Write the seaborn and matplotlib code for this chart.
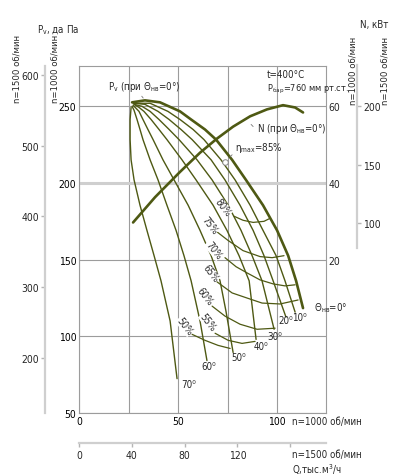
import matplotlib
matplotlib.use("Agg")
import pandas as pd
import matplotlib.pyplot as plt
import seaborn as sns

# ---- data, n=1000 об/мин: Q in тыс. м3/ч, Pv in да Па, N in кВт
angles = [0, 10, 20, 30, 40, 50, 60, 70]

q_0 = [26.8, 33.3, 40.9, 51.0, 56.6, 63.6, 69.2, 77.3, 84.3, 92.9, 100.0, 105.6, 109.6, 113.1]
p_0 = [252.6, 253.9, 252.6, 246.7, 241.4, 234.9, 228.3, 215.1, 202.0, 185.5, 169.1, 152.6, 136.2, 118.4]
q_10 = [27.3, 35.9, 44.9, 51.0, 57.6, 63.1, 71.7, 78.8, 86.4, 92.9, 99.5, 104.0, 109.1]
p_10 = [252.0, 252.0, 246.7, 241.4, 234.9, 228.3, 215.1, 202.0, 185.5, 169.1, 152.6, 136.2, 115.8]
q_20 = [27.8, 33.3, 39.9, 45.5, 51.5, 57.1, 66.7, 73.7, 81.3, 87.9, 93.4, 98.0, 104.5]
p_20 = [252.0, 251.3, 246.7, 241.4, 234.9, 228.3, 215.1, 202.0, 185.5, 169.1, 152.6, 136.2, 112.5]
q_30 = [27.8, 31.8, 35.9, 40.4, 45.5, 50.5, 59.6, 67.2, 75.3, 81.8, 87.4, 92.4, 98.5]
p_30 = [251.3, 250.0, 246.7, 241.4, 234.9, 228.3, 215.1, 202.0, 185.5, 169.1, 152.6, 136.2, 104.6]
q_40 = [27.8, 30.3, 32.8, 36.4, 40.4, 44.4, 52.0, 59.1, 67.7, 74.7, 80.8, 85.9, 89.4]
p_40 = [251.3, 249.3, 246.7, 241.4, 234.9, 228.3, 215.1, 202.0, 185.5, 169.1, 152.6, 136.2, 98.0]
q_50 = [27.3, 28.8, 30.3, 32.3, 34.8, 37.4, 42.4, 48.0, 55.1, 61.1, 66.7, 71.2, 74.2, 77.8]
p_50 = [250.7, 248.7, 246.7, 241.4, 234.9, 228.3, 215.1, 202.0, 185.5, 169.1, 152.6, 136.2, 116.4, 89.5]
q_60 = [26.8, 27.8, 29.3, 30.8, 32.3, 35.9, 39.9, 44.4, 49.0, 53.0, 56.6, 61.1, 64.6]
p_60 = [250.0, 247.4, 241.4, 234.9, 228.3, 215.1, 202.0, 185.5, 169.1, 152.6, 136.2, 110.0, 84.2]
q_70 = [26.3, 25.8, 25.8, 26.3, 27.8, 30.8, 34.3, 37.9, 41.4, 46.0, 49.5]
p_70 = [249.3, 241.4, 228.3, 215.1, 202.0, 185.5, 169.1, 152.6, 136.2, 110.0, 72.4]

# efficiency lines (%)
eff_levels = [80, 75, 70, 65, 60, 55, 50]
q_e80 = [78.3, 82.8, 87.9, 93.4, 96.5]
p_e80 = [178.3, 175.7, 174.3, 175.0, 177.0]
q_e75 = [68.7, 75.3, 82.8, 91.4, 97.5, 103.5]
p_e75 = [169.1, 162.5, 155.9, 152.0, 151.3, 152.6]
q_e70 = [73.7, 79.3, 84.8, 91.4, 98.0, 104.0, 109.1]
p_e70 = [151.3, 145.4, 141.4, 136.8, 134.2, 132.9, 133.6]
q_e65 = [69.7, 77.3, 84.8, 92.4, 101.5, 110.6]
p_e65 = [135.5, 128.3, 125.0, 121.7, 121.1, 123.7]
q_e60 = [67.2, 73.7, 81.3, 89.9, 99.0]
p_e60 = [119.7, 113.2, 107.9, 104.6, 105.3]
q_e55 = [68.7, 75.3, 82.3, 88.9]
p_e55 = [102.0, 97.4, 95.4, 96.7]
q_e50 = [57.1, 63.6, 70.2, 76.3]
p_e50 = [101.3, 97.4, 94.1, 92.1]

# power at Θнв=0°
q_n = [27.3, 38.4, 51.0, 61.1, 69.7, 77.8, 86.4, 94.9, 103.0, 109.1, 113.1]
n_kw = [29.7, 36.3, 42.9, 47.9, 51.6, 54.7, 57.4, 59.2, 60.3, 59.7, 58.4]

eta_max_point = (73.7, 213.8)

theta_q = [q_0, q_10, q_20, q_30, q_40, q_50, q_60, q_70]
theta_p = [p_0, p_10, p_20, p_30, p_40, p_50, p_60, p_70]
eff_q = [q_e80, q_e75, q_e70, q_e65, q_e60, q_e55, q_e50]
eff_p = [p_e80, p_e75, p_e70, p_e65, p_e60, p_e55, p_e50]

df_theta = pd.concat([pd.DataFrame({'Q': q, 'P': p, 'angle': a})
                      for a, q, p in zip(angles, theta_q, theta_p)])
df_eff = pd.concat([pd.DataFrame({'Q': q, 'P': p, 'eff': e})
                    for e, q, p in zip(eff_levels, eff_q, eff_p)])
df_n = pd.DataFrame({'Q': q_n, 'N': n_kw})

sns.set_theme(style='white')
plt.rcParams['font.family'] = ['DejaVu Sans']
plt.rcParams['font.stretch'] = 'condensed'
plt.rcParams['font.size'] = 7.5
plt.rcParams['mathtext.default'] = 'regular'

W, H = 400, 477
LINE = '#4e5913'
GRID = '#9c9c9c'
PALE = '#cfcfcf'
FS = 7.5


def fxy(x, y):
    return x / W, 1 - y / H


fig = plt.figure(figsize=(4, 4.77), dpi=100)
ax = fig.add_axes([79 / W, 1 - 414 / H, 247 / W, 347 / H])
ax.set_xlim(0, 124.7)
ax.set_ylim(50, 276.3)

# grid
ax.set_xticks([0, 25, 50, 75, 100])
ax.set_xticklabels(['0', '', '50', '', '100'])
ax.set_yticks([50, 100, 150, 200, 250])
ax.grid(True, color=GRID, lw=0.8)
ax.yaxis.get_gridlines()[3].set(color=PALE, lw=2.2)
for s in ax.spines.values():
    s.set_color(GRID)
    s.set_linewidth(0.8)
ax.tick_params(length=0, pad=2, labelsize=FS, colors='black')

# Θ curves
for a in angles:
    sub = df_theta[df_theta['angle'] == a]
    sns.lineplot(data=sub, x='Q', y='P', sort=False, estimator=None, ax=ax,
                 color=LINE, lw=1.9 if a == 0 else 1.0)
for e in eff_levels:
    sub = df_eff[df_eff['eff'] == e]
    sns.lineplot(data=sub, x='Q', y='P', sort=False, estimator=None, ax=ax,
                 color=LINE, lw=0.9)
ax.set_xlabel('')
ax.set_ylabel('')

# N axis (n=1000) on the right of the frame
axn = ax.twinx()
axn.set_ylim((50 - 100) * 0.4, (276.3 - 100) * 0.4)
sns.lineplot(data=df_n, x='Q', y='N', sort=False, estimator=None, ax=axn, color=LINE, lw=1.9)
axn.set_yticks([20, 40, 60])
axn.tick_params(length=0, pad=2, labelsize=FS)
axn.set_ylabel('')
axn.grid(False)
for s in axn.spines.values():
    s.set_visible(False)

# outer scales n=1500
sec_p = ax.secondary_yaxis(-0.1377, functions=(lambda p: 13 + 2.171 * p, lambda v: (v - 13) / 2.171))
sec_p.set_yticks([200, 300, 400, 500, 600])
sec_p.spines['left'].set_color(PALE)
sec_p.spines['left'].set_linewidth(1.6)
sec_p.tick_params(length=3, width=1, color='#b5b5b5', pad=1.5, labelsize=FS)

sec_n = ax.secondary_yaxis(1.1255, functions=(lambda p: 1.3106 * p - 127.6, lambda v: (v + 127.6) / 1.3106))
sec_n.set_yticks([100, 150, 200])
sec_n.spines['right'].set_color(PALE)
sec_n.spines['right'].set_linewidth(1.6)
sec_n.spines['right'].set_bounds(79, 235)
sec_n.tick_params(length=3, width=1, color='#b5b5b5', pad=1.5, labelsize=FS)

sec_q = ax.secondary_xaxis(-0.0865, functions=(lambda q: 1.5 * q, lambda v: v / 1.5))
sec_q.set_xticks([0, 40, 80, 120, 160])
sec_q.set_xticklabels(['0', '40', '80', '120', ''])
sec_q.spines['bottom'].set_color(PALE)
sec_q.spines['bottom'].set_linewidth(1.6)
sec_q.tick_params(length=3, width=1, color='#b5b5b5', pad=2, labelsize=FS)

# axis titles
rpm1000 = 'n=1000 об/мин'
rpm1500 = 'n=1500 об/мин'
fig.text(*fxy(37, 30), 'P$_{v}$, да Па', ha='left', va='center', fontsize=7)
fig.text(*fxy(17, 69), rpm1500, rotation=90, ha='center', va='center', fontsize=6.8)
fig.text(*fxy(55, 69), rpm1000, rotation=90, ha='center', va='center', fontsize=6.8)
fig.text(*fxy(360, 25), 'N, кВт', ha='left', va='center', fontsize=7)
fig.text(*fxy(353, 71), rpm1000, rotation=90, ha='center', va='center', fontsize=6.8)
fig.text(*fxy(385, 71), rpm1500, rotation=90, ha='center', va='center', fontsize=6.8)
fig.text(*fxy(292, 422), rpm1000, ha='left', va='center', fontsize=7)
fig.text(*fxy(292, 455), rpm1500, ha='left', va='center', fontsize=7)
fig.text(*fxy(292, 470), 'Q,тыс.м$^{3}$/ч', ha='left', va='center', fontsize=7)

# annotations
fig.text(*fxy(108, 87), 'P$_{v}$ (при Θ$_{нв}$=0°)', ha='left', va='center', fontsize=7)
fig.text(*fxy(267, 75), 't=400°C', ha='left', va='center', fontsize=7)
fig.text(*fxy(267, 89), 'P$_{бар}$=760 мм рт.ст.', ha='left', va='center', fontsize=6.6)
fig.text(*fxy(257, 129), 'N (при Θ$_{нв}$=0°)', ha='left', va='center', fontsize=7)
fig.text(*fxy(235, 148), 'η$_{max}$=85%', ha='left', va='center', fontsize=7)
fig.text(*fxy(314, 308), 'Θ$_{нв}$=0°', ha='left', va='center', fontsize=7)

ax.annotate('', xy=(33.3, 254.0), xytext=(30.8, 258.0),
            arrowprops=dict(arrowstyle='-', lw=0.6, color='#777777'))
ax.annotate('', xy=(85.9, 239.5), xytext=(88.9, 235.5),
            arrowprops=dict(arrowstyle='-', lw=0.6, color='#777777'))
ax.annotate('', xy=(75.3, 215.8), xytext=(78.3, 219.7),
            arrowprops=dict(arrowstyle='-', lw=0.6, color='#777777'))
ax.plot(*eta_max_point, marker='o', ms=4, mfc='white', mec='#888888', mew=0.7)

theta_pos = [(299, 318), (286, 321), (275, 337), (261, 347), (239, 358), (209, 367), (189, 385)]
for a, (x, y) in zip(angles[1:], theta_pos):
    fig.text(*fxy(x, y), f'{a}⁰', ha='center', va='center', fontsize=7)

eff_pos = [(223, 208), (210, 226), (214, 251), (211, 274), (205, 297), (208, 323), (185, 327)]
for e, (x, y) in zip(eff_levels, eff_pos):
    fig.text(*fxy(x, y), f'{e}%', ha='center', va='center', rotation=-52, fontsize=7,
             bbox=dict(fc='white', ec='none', pad=0.2))

fig.savefig('out.png', dpi=100)
